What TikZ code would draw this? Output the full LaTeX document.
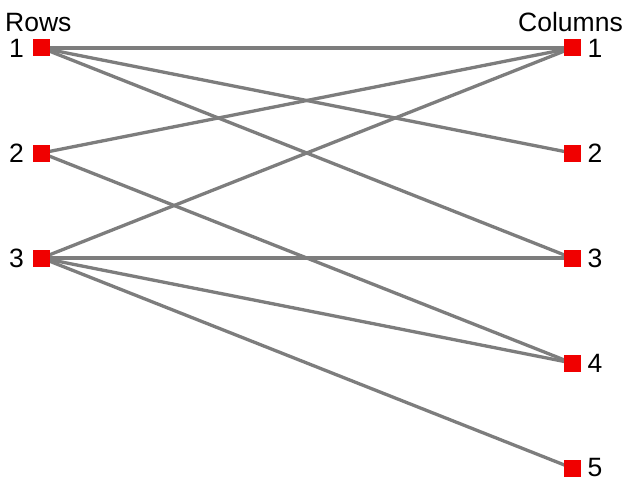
\documentclass[tikz,border=0pt]{standalone}
\usepackage{fontspec}
\setmainfont{Liberation Sans}
\definecolor{edgegray}{RGB}{125,125,125}
\definecolor{vred}{RGB}{240,0,0}
\begin{document}
\begin{tikzpicture}[x=1pt,y=-1pt,
  vert/.style={fill=vred,draw=none,minimum size=17pt,inner sep=0pt,outer sep=0pt},
  lab/.style={font=\fontsize{26.5}{26.5}\selectfont,inner sep=0pt},
  edge/.style={draw=edgegray,line width=3.3pt}]
\useasboundingbox (0,0) rectangle (631,484);
% vertex positions
\foreach \i/\y in {1/48,2/153,3/258}
  \coordinate (r\i) at (41.5,\y);
\foreach \i/\y in {1/48,2/153,3/258,4/363,5/468}
  \coordinate (c\i) at (572,\y);
% edges
\foreach \a/\b in {1/1,1/2,1/3,2/1,2/4,3/1,3/3,3/4,3/5}
  \draw[edge] (r\a) -- (c\b);
% vertices and labels
\foreach \i in {1,2,3}{
  \node[vert] (rv\i) at (r\i) {};
  \node[lab,anchor=east] (rl\i) at ([xshift=-9pt]rv\i.west) {\i};
}
\foreach \i in {1,...,5}{
  \node[vert] (cv\i) at (c\i) {};
  \node[lab,anchor=west] (cl\i) at ([xshift=7pt]cv\i.east) {\i};
}
\node[lab,anchor=base west] (rows) at (5,32) {Rows};
\node[lab,anchor=base east] (cols) at (623,32) {Columns};
\end{tikzpicture}
\end{document}
